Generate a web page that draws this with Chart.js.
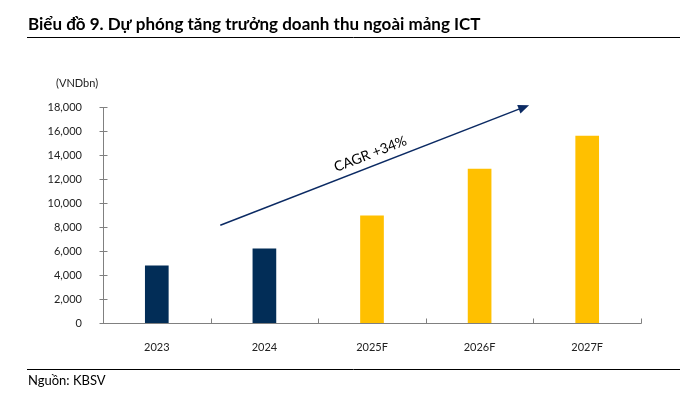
<!DOCTYPE html>
<html><head><meta charset="utf-8">
<script src="https://cdn.jsdelivr.net/npm/chart.js@4"></script>
<style>html,body{margin:0;padding:0;background:#fff;}#wrap{width:698px;height:397px;position:relative;}</style>
</head><body><div id="wrap"><canvas id="c" width="698" height="397"></canvas></div>
<script>
const categories = ['2023', '2024', '2025F', '2026F', '2027F'];
const revenue = [4800, 6200, 8950, 12850, 15600];
const barColors = ['#022D57', '#022D57', '#FFC000', '#FFC000', '#FFC000'];
const yTicks = [0, 2000, 4000, 6000, 8000, 10000, 12000, 14000, 16000, 18000];
const titleText = 'Biểu đồ 9. Dự phóng tăng trưởng doanh thu ngoài mảng ICT';
const unitText = '(VNDbn)';
const sourceText = 'Nguồn: KBSV';
const cagrText = 'CAGR +34%';
const arrowFrom = [0.59, 8150];
const arrowTo = [3.46, 18150];

const FONT = 'Lato, "Noto Sans", sans-serif';

const decor = {
  id: 'decor',
  afterDraw(chart) {
    const ctx = chart.ctx, x = chart.scales.x, y = chart.scales.y, a = chart.chartArea;
    ctx.save();
    ctx.fillStyle = '#000';
    ctx.font = 'bold 17px ' + FONT;
    ctx.textBaseline = 'alphabetic';
    ctx.textAlign = 'left';
    ctx.fillText(titleText, 28, 30);
    ctx.strokeStyle = '#000';
    ctx.lineWidth = 1;
    ctx.beginPath(); ctx.moveTo(27, 37.5); ctx.lineTo(680, 37.5); ctx.stroke();
    ctx.beginPath(); ctx.moveTo(27, 369.5); ctx.lineTo(680, 369.5); ctx.stroke();
    ctx.font = '13px ' + FONT;
    ctx.textBaseline = 'middle';
    ctx.fillText(sourceText, 28, 381);
    ctx.font = '11px ' + FONT;
    ctx.fillStyle = '#222';
    ctx.fillText(unitText, 56, 83);
    ctx.strokeStyle = '#808080';
    ctx.lineWidth = 1;
    const ax = Math.round(a.left) + 0.5;
    const ay = Math.round(a.bottom) + 0.5;
    ctx.beginPath(); ctx.moveTo(ax, y.getPixelForValue(yTicks[yTicks.length-1])); ctx.lineTo(ax, ay); ctx.stroke();
    ctx.beginPath(); ctx.moveTo(ax - 3, ay); ctx.lineTo(Math.round(a.right) + 0.5, ay); ctx.stroke();
    yTicks.forEach(v => {
      const py = Math.round(y.getPixelForValue(v)) + 0.5;
      ctx.beginPath(); ctx.moveTo(ax - 4, py); ctx.lineTo(ax + 4, py); ctx.stroke();
    });
    for (let i = 1; i <= categories.length; i++) {
      const px = Math.round(i < categories.length ? (x.getPixelForValue(i - 1) + x.getPixelForValue(i)) / 2 : a.right) + 0.5;
      ctx.beginPath(); ctx.moveTo(px, ay); ctx.lineTo(px, ay - 5); ctx.stroke();
    }
    const x1 = x.getPixelForValue(arrowFrom[0]), y1 = y.getPixelForValue(arrowFrom[1]);
    const x2 = x.getPixelForValue(arrowTo[0]), y2 = y.getPixelForValue(arrowTo[1]);
    const ang = Math.atan2(y2 - y1, x2 - x1);
    ctx.strokeStyle = '#0B2A63';
    ctx.fillStyle = '#0B2A63';
    ctx.lineWidth = 1.5;
    const hl = 11;
    ctx.beginPath(); ctx.moveTo(x1, y1);
    ctx.lineTo(x2 - hl * 0.8 * Math.cos(ang), y2 - hl * 0.8 * Math.sin(ang)); ctx.stroke();
    ctx.beginPath();
    ctx.moveTo(x2, y2);
    ctx.lineTo(x2 - hl * Math.cos(ang) + 4.5 * Math.sin(ang), y2 - hl * Math.sin(ang) - 4.5 * Math.cos(ang));
    ctx.lineTo(x2 - hl * Math.cos(ang) - 4.5 * Math.sin(ang), y2 - hl * Math.sin(ang) + 4.5 * Math.cos(ang));
    ctx.closePath(); ctx.fill();
    ctx.restore();
    ctx.save();
    const t = 0.5;
    const cx = x1 + (x2 - x1) * t + 12 * Math.sin(ang);
    const cy = y1 + (y2 - y1) * t - 12 * Math.cos(ang);
    ctx.translate(cx, cy);
    ctx.rotate(ang);
    ctx.fillStyle = '#000';
    ctx.font = '14px ' + FONT;
    ctx.textAlign = 'center';
    ctx.textBaseline = 'middle';
    ctx.fillText(cagrText, 0, 0);
    ctx.restore();
  }
};

new Chart(document.getElementById('c'), {
  type: 'bar',
  data: {
    labels: categories,
    datasets: [{ data: revenue, backgroundColor: barColors, barPercentage: 0.22, categoryPercentage: 1 }]
  },
  options: {
    responsive: false,
    animation: false,
    devicePixelRatio: 1,
    layout: { padding: { left: 0, right: 57, top: 107, bottom: 0 } },
    plugins: { legend: { display: false }, tooltip: { enabled: false } },
    scales: {
      x: {
        grid: { display: false }, border: { display: false },
        ticks: { color: '#222', font: { family: FONT, size: 11 }, padding: 10, maxRotation: 0 },
        afterFit(s) { s.height = 74; }
      },
      y: {
        min: 0, max: 18000,
        afterBuildTicks(s) { s.ticks = yTicks.map(v => ({ value: v })); },
        grid: { display: false }, border: { display: false },
        ticks: { color: '#222', font: { family: FONT, size: 11 }, padding: 13,
          callback: v => v.toLocaleString('en-US') },
        afterFit(s) { s.width = 103; }
      }
    }
  },
  plugins: [decor]
});
</script></body></html>
